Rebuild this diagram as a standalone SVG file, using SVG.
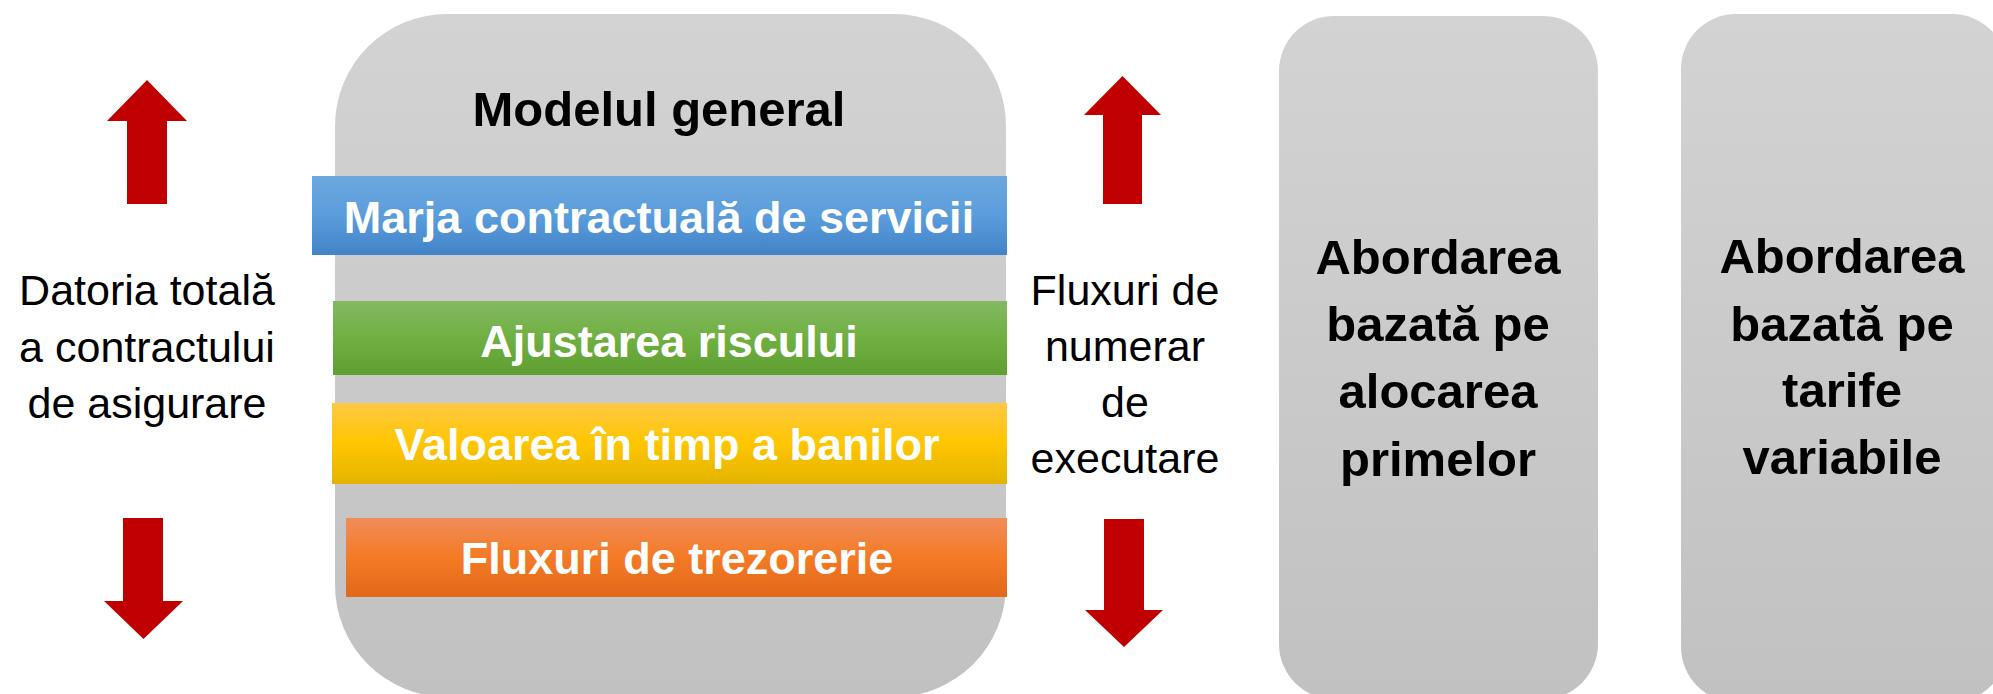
<svg xmlns="http://www.w3.org/2000/svg" width="1993" height="694" viewBox="0 0 1993 694">
<defs>
<linearGradient id="gGray" x1="0" y1="0" x2="0" y2="1"><stop offset="0" stop-color="#d3d3d3"/><stop offset="1" stop-color="#c1c1c1"/></linearGradient>
<linearGradient id="gBlue" x1="0" y1="0" x2="0" y2="1"><stop offset="0" stop-color="#6da7dd"/><stop offset="0.5" stop-color="#5a9ddc"/><stop offset="1" stop-color="#4383c7"/></linearGradient>
<linearGradient id="gGreen" x1="0" y1="0" x2="0" y2="1"><stop offset="0" stop-color="#83b962"/><stop offset="0.5" stop-color="#70b042"/><stop offset="1" stop-color="#5f9f32"/></linearGradient>
<linearGradient id="gYellow" x1="0" y1="0" x2="0" y2="1"><stop offset="0" stop-color="#ffc843"/><stop offset="0.5" stop-color="#ffc600"/><stop offset="1" stop-color="#e2b300"/></linearGradient>
<linearGradient id="gOrange" x1="0" y1="0" x2="0" y2="1"><stop offset="0" stop-color="#f08d59"/><stop offset="0.5" stop-color="#f47a25"/><stop offset="1" stop-color="#e2681a"/></linearGradient>
</defs>
<style>
.lbl{font-family:"Liberation Sans",Arial,sans-serif;font-size:43px;fill:#000;text-anchor:middle}
.bold{font-family:"Liberation Sans",Arial,sans-serif;font-weight:bold;font-size:49px;fill:#000;text-anchor:middle}
.bar{font-family:"Liberation Sans",Arial,sans-serif;font-weight:bold;font-size:45px;fill:#fff;text-anchor:middle}
.arrow{fill:#c00000}
</style>
<rect width="1993" height="694" fill="#fff"/>
<g id="general-model">
<rect x="335" y="14" width="671" height="683" rx="112" ry="112" fill="url(#gGray)"/>
<text class="bold" x="659" y="126">Modelul general</text>
</g>
<g id="bar-csm">
<rect x="312" y="176" width="695" height="79" fill="url(#gBlue)"/>
<text class="bar" x="659" y="233">Marja contractuală de servicii</text>
</g>
<g id="bar-risk">
<rect x="333" y="301" width="674" height="74" fill="url(#gGreen)"/>
<text class="bar" x="669" y="357">Ajustarea riscului</text>
</g>
<g id="bar-time">
<rect x="332" y="403" width="675" height="81" fill="url(#gYellow)"/>
<text class="bar" x="667" y="460">Valoarea în timp a banilor</text>
</g>
<g id="bar-cash">
<rect x="346" y="518" width="661" height="79" fill="url(#gOrange)"/>
<text class="bar" x="677" y="574">Fluxuri de trezorerie</text>
</g>
<g id="label-left">
<text class="lbl" x="147" y="305">Datoria totală</text>
<text class="lbl" x="147" y="362">a contractului</text>
<text class="lbl" x="147" y="418">de asigurare</text>
</g>
<g id="label-right">
<text class="lbl" x="1125" y="305">Fluxuri de</text>
<text class="lbl" x="1125" y="361">numerar</text>
<text class="lbl" x="1125" y="417">de</text>
<text class="lbl" x="1125" y="473">executare</text>
</g>
<g id="premium-allocation">
<rect x="1279" y="16" width="319" height="683" rx="55" ry="55" fill="url(#gGray)"/>
<text class="bold" x="1438" y="274">Abordarea</text>
<text class="bold" x="1438" y="341">bazată pe</text>
<text class="bold" x="1438" y="408">alocarea</text>
<text class="bold" x="1438" y="476">primelor</text>
</g>
<g id="variable-fee">
<rect x="1681" y="14" width="326" height="688" rx="55" ry="55" fill="url(#gGray)"/>
<text class="bold" x="1842" y="273">Abordarea</text>
<text class="bold" x="1842" y="341">bazată pe</text>
<text class="bold" x="1842" y="407">tarife</text>
<text class="bold" x="1842" y="474">variabile</text>
</g>
<g id="arrows">
<polygon class="arrow" points="147,80 187,121 167,121 167,204 127,204 127,121 107,121"/>
<polygon class="arrow" points="123,518 163,518 163,601 183,601 143.5,639 104,601 123,601"/>
<polygon class="arrow" points="1122.5,76 1161,115 1142,115 1142,204 1103,204 1103,115 1084,115"/>
<polygon class="arrow" points="1104,519 1144,519 1144,610 1163,610 1124,647 1085,610 1104,610"/>
</g>
</svg>
